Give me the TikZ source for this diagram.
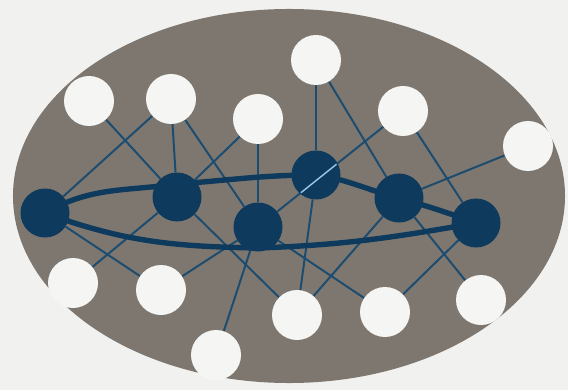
\documentclass[tikz,border=0pt]{standalone}
\usepackage{tikz}
\usetikzlibrary{calc,backgrounds}
\definecolor{Paper}{HTML}{F1F1EF}
\definecolor{Stone}{HTML}{7E776F}
\definecolor{Navy}{HTML}{0E3A5D}
\definecolor{Wire}{HTML}{1C4C70}
\definecolor{Chalk}{HTML}{F5F5F3}
\definecolor{Glint}{HTML}{9CCBEA}

\begin{document}
\begin{tikzpicture}[x=0.03cm,y=0.03cm,
    hub/.style={circle,fill=Navy,minimum size=1.47cm,inner sep=0pt},
    sat/.style={circle,fill=Chalk,minimum size=1.5cm,inner sep=0pt},
    link/.style={draw=Wire,line width=1.7pt},
    bond/.style={draw=Navy,line width=4.6pt,line cap=round}
]
\useasboundingbox (0,0) rectangle (568,390);
% dark hubs
\node[hub] (h1) at (45,177) {};
\node[hub] (h2) at (177,193) {};
\node[hub] (h3) at (258,163) {};
\node[hub] (h4) at (316,215) {};
\node[hub] (h5) at (399,192) {};
\node[hub] (h6) at (476,167) {};
% white satellites
\node[sat] (s1) at (89,289) {};
\node[sat] (s2) at (171,291) {};
\node[sat] (s3) at (258,271) {};
\node[sat] (s4) at (316,330) {};
\node[sat] (s5) at (403,279) {};
\node[sat] (s6) at (528,244) {};
\node[sat] (s7) at (73,107) {};
\node[sat] (s8) at (161,100) {};
\node[sat] (s9) at (216,35) {};
\node[sat] (s10) at (297,75) {};
\node[sat] (s11) at (385,78) {};
\node[sat] (s12) at (481,90) {};
\begin{scope}[on background layer]
\fill[Paper] (0,0) rectangle (568,390);
\fill[Stone] (289,194) ellipse [x radius=8.28cm,y radius=5.61cm];
\foreach \a/\b in {s1/h2,s2/h1,s2/h2,s2/h3,s3/h2,s3/h3,s4/h4,s4/h5,s5/h3,s5/h6,
    s6/h5,s7/h2,s8/h1,s8/h3,s9/h3,s10/h2,s10/h4,s10/h5,s11/h3,s11/h6,s12/h5}
  \draw[link] (\a) -- (\b);
% the thick ring
\draw[bond] (h1.center) to[out=30,in=188] ($(h2.center)+(0,13)$)
  to[out=4,in=180] (h4.center) to[out=-8,in=166] (h5.center)
  to[out=-16,in=160] (h6.center);
\draw[bond] (h1.center) to[out=-20,in=179] ($(h3.center)+(0,-21)$)
  to[out=2,in=190] (h6.center);
\end{scope}
% light streak across h4
\begin{scope}
\clip (h4.center) circle [radius=0.7cm];
\draw[Glint,line width=1.2pt] (s5) -- (h3);
\end{scope}
\end{tikzpicture}
\end{document}
